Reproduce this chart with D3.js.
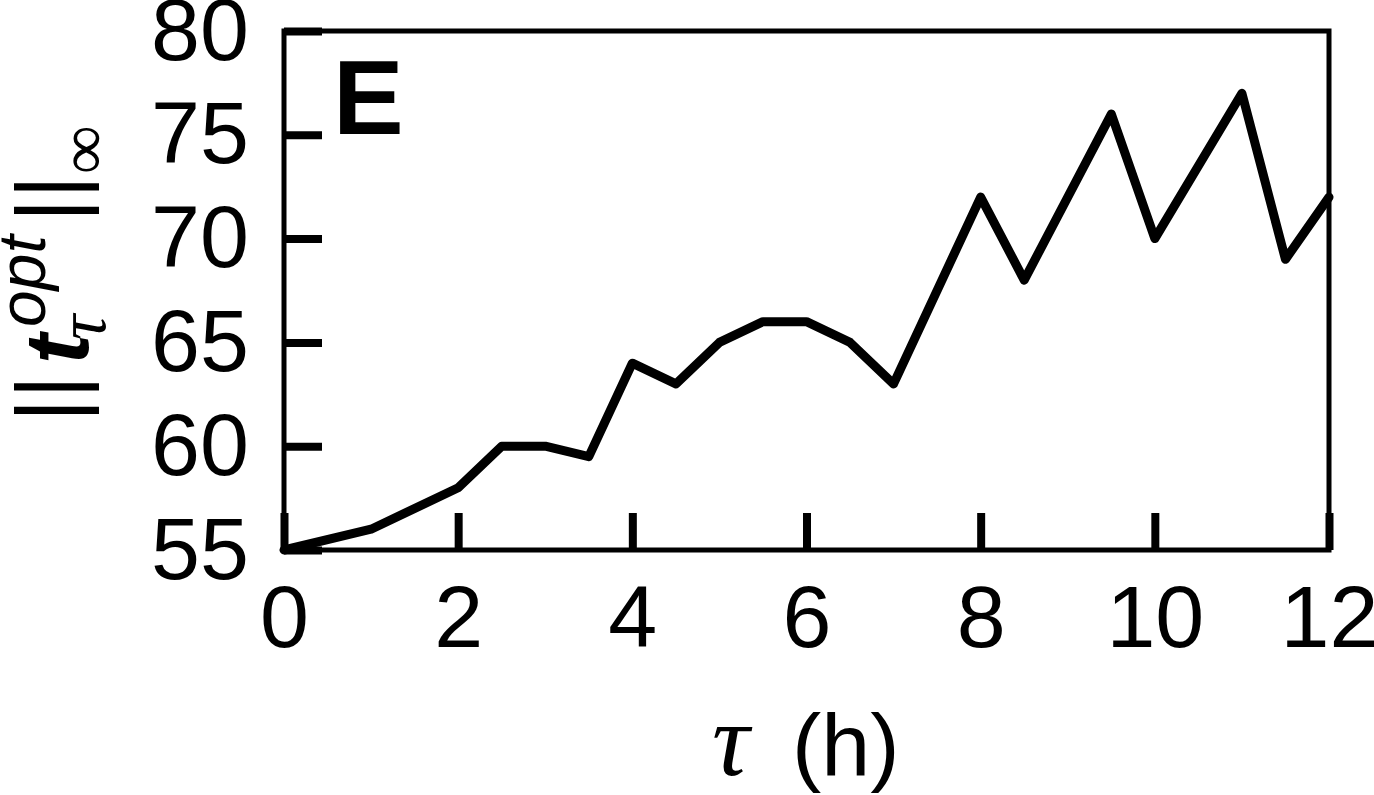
<!DOCTYPE html>
<html>
<head>
<meta charset="utf-8">
<script src="https://cdn.jsdelivr.net/npm/d3@7"></script>
<style>
  html, body { margin: 0; padding: 0; background: #fff; }
  svg { display: block; }
  text { font-family: "Liberation Sans", Arial, Helvetica, sans-serif; }
</style>
</head>
<body>
<svg id="chart" width="1374" height="795"></svg>
<script>
const tauHours = [0, 1, 2, 2.5, 3, 3.5, 4, 4.5, 5, 5.5, 6, 6.5, 7, 8, 8.5, 9.5, 10, 11, 11.5, 12];
const normValues = [55, 56, 58, 60, 60, 59.5, 64, 63, 65, 66, 66, 65, 63, 72, 68, 76, 70, 77, 69, 72];
const xTicks = [0, 2, 4, 6, 8, 10, 12];
const yTicks = [55, 60, 65, 70, 75, 80];
const panelLabel = "E";

const svg = d3.select("#chart");
const mLeft = 284, mRight = 1329, mTop = 31, mBottom = 550;
const serif = "'Liberation Serif', 'DejaVu Serif', serif";

const x = d3.scaleLinear().domain([0, 12]).range([mLeft, mRight]);
const y = d3.scaleLinear().domain([55, 80]).range([mBottom, mTop]);

// frame
svg.append("rect").attr("x", mLeft).attr("y", mTop).attr("width", mRight - mLeft).attr("height", mBottom - mTop)
  .attr("fill", "none").attr("stroke", "#000").attr("stroke-width", 5);

// x axis
const gx = svg.append("g").attr("transform", `translate(0,${mBottom})`)
  .call(d3.axisBottom(x).tickValues(xTicks).tickSizeInner(-37).tickSizeOuter(0).tickPadding(35).tickFormat(d3.format("d")));
gx.select(".domain").remove();
gx.selectAll(".tick line").attr("stroke", "#000").attr("stroke-width", 8);
gx.selectAll(".tick text").attr("font-size", 88).attr("fill", "#000");

// y axis
const gy = svg.append("g").attr("transform", `translate(${mLeft},0)`)
  .call(d3.axisLeft(y).tickValues(yTicks).tickSizeInner(-38).tickSizeOuter(0).tickPadding(35).tickFormat(d3.format("d")));
gy.select(".domain").remove();
gy.selectAll(".tick line").attr("stroke", "#000").attr("stroke-width", 8);
gy.selectAll(".tick text").attr("font-size", 88).attr("fill", "#000");

// data line
const line = d3.line().x((d, i) => x(tauHours[i])).y(d => y(d));
svg.append("path").datum(normValues).attr("d", line)
  .attr("fill", "none").attr("stroke", "#000").attr("stroke-width", 9)
  .attr("stroke-linejoin", "round").attr("stroke-linecap", "round");

// panel label
svg.append("text").attr("x", 333).attr("y", 134).attr("font-size", 106).attr("font-weight", "bold")
  .attr("fill", "#000").text(panelLabel);

// x label
const xl = svg.append("text").attr("y", 775).attr("font-size", 88).attr("fill", "#000");
xl.append("tspan").attr("x", 712).attr("font-size", 104).attr("font-family", serif).attr("font-style", "italic").text("τ");
xl.append("tspan").attr("x", 792).text("(h)");

// y label (rotated: x = along text, y = offset from baseline)
const yl = svg.append("text").attr("transform", "rotate(-90)").attr("fill", "#000");
yl.append("tspan").attr("x", -422).attr("y", 80).attr("font-size", 90).text("||");
yl.append("tspan").attr("x", -364).attr("y", 88).attr("font-size", 90)
  .attr("font-style", "italic").attr("font-weight", "bold").text("t");
yl.append("tspan").attr("x", -340).attr("y", 105).attr("font-size", 70)
  .attr("font-family", serif).attr("font-style", "italic").text("τ");
yl.append("tspan").attr("x", -327).attr("y", 45).attr("font-size", 66).attr("font-style", "italic").text("opt");
yl.append("tspan").attr("x", -222).attr("y", 80).attr("font-size", 90).text("||");
yl.append("tspan").attr("x", -174).attr("y", 106).attr("font-size", 68).attr("font-family", serif).text("∞");
</script>
</body>
</html>
